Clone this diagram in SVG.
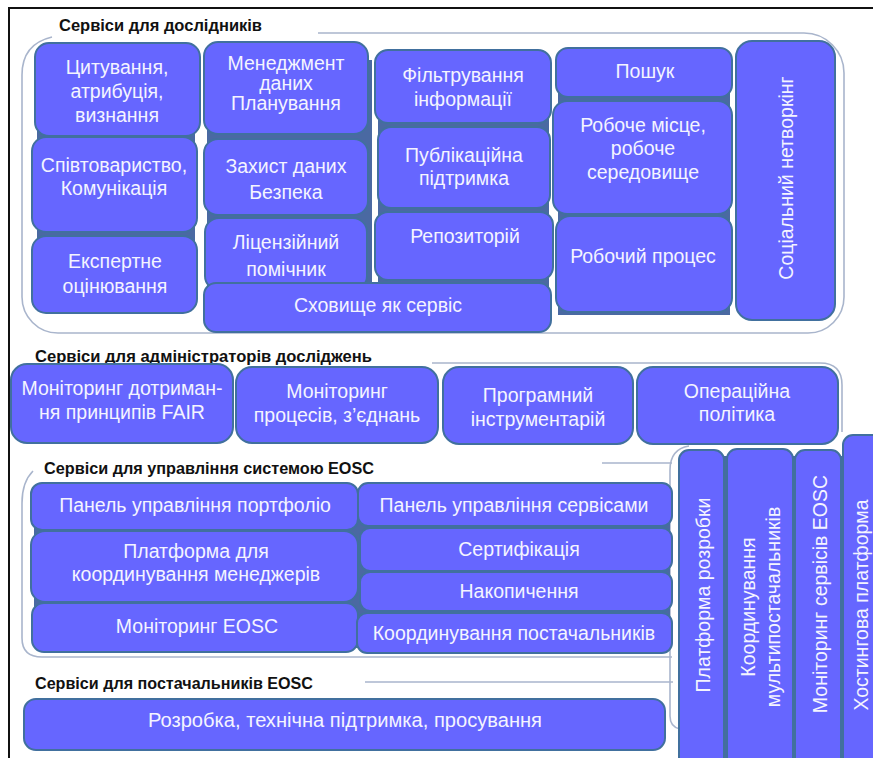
<svg xmlns="http://www.w3.org/2000/svg" width="873" height="758" viewBox="0 0 873 758">
<style>
.box{fill:#6666FF;stroke:#41709E;stroke-width:2}
.back{fill:#4A69A2}
.t{font-family:"Liberation Sans",Arial,sans-serif;font-size:19.5px;fill:#F4F4FF;text-anchor:middle}
.h{font-family:"Liberation Sans",Arial,sans-serif;font-size:16px;font-weight:bold;fill:#111}
.frame{fill:none;stroke:#A9B5CC;stroke-width:1.6}
</style>
<rect width="873" height="758" fill="#FFFFFF"/>
<path d="M9 758 V8 H873" fill="none" stroke="#111" stroke-width="2"/>

<g id="frames">
<path class="frame" d="M318 33 H804 A40 40 0 0 1 844 73 V297 A36 36 0 0 1 808 333 H58 A36 36 0 0 1 22 297 V75 Q22 44 52 37"/>
<path class="frame" d="M432 363 H820 Q842 363 842 385 V432"/>
<path class="frame" d="M602 463 H672"/>
<path class="frame" d="M33 471 Q22 482 22 503 V638 Q22 657 42 657 H672"/>
<path class="frame" d="M365 682 H673"/>
<path class="frame" d="M689 446 Q670 449 670 470 V716 Q670 727 680 729"/>
</g>

<g id="backs">
<rect class="back" x="37" y="60" width="158" height="240"/>
<rect class="back" x="207" y="60" width="165" height="236"/>
<rect class="back" x="378" y="62" width="171" height="228"/>
<rect class="back" x="558" y="60" width="172" height="255"/>
<rect class="back" x="34" y="492" width="636" height="156"/>
<rect class="back" x="682" y="456" width="191" height="302"/>
</g>

<g id="title-researchers"><text class="h" x="59" y="31" textLength="203" lengthAdjust="spacingAndGlyphs">Сервіси для дослідників</text></g>

<g id="n-citation"><rect class="box" x="35" y="43" width="165" height="93" rx="14"/>
<text class="t" x="117" y="74">Цитування,</text><text class="t" x="117" y="98">атрибуція,</text><text class="t" x="117" y="122">визнання</text></g>
<g id="n-community"><rect class="box" x="32" y="137" width="165" height="95" rx="14"/>
<text class="t" x="114" y="172">Співтовариство,</text><text class="t" x="114" y="195">Комунікація</text></g>
<g id="n-expert"><rect class="box" x="32" y="236" width="165" height="77" rx="14"/>
<text class="t" x="115" y="268">Експертне</text><text class="t" x="115" y="293">оцінювання</text></g>

<g id="n-dm"><rect class="box" x="204" y="42" width="164" height="92" rx="14"/>
<text class="t" x="286" y="70">Менеджмент</text><text class="t" x="286" y="90">даних</text><text class="t" x="286" y="110">Планування</text></g>
<g id="n-protect"><rect class="box" x="204" y="139" width="164" height="76" rx="14"/>
<text class="t" x="286" y="173">Захист даних</text><text class="t" x="286" y="199">Безпека</text></g>
<g id="n-license"><rect class="box" x="205" y="218" width="162" height="72" rx="14"/>
<text class="t" x="286" y="249">Ліцензійний</text><text class="t" x="286" y="276">помічник</text></g>

<g id="n-filter"><rect class="box" x="375" y="50" width="176" height="73" rx="13"/>
<text class="t" x="463" y="82">Фільтрування</text><text class="t" x="463" y="106">інформації</text></g>
<g id="n-publish"><rect class="box" x="378" y="127" width="172" height="81" rx="13"/>
<text class="t" x="464" y="162">Публікаційна</text><text class="t" x="464" y="185">підтримка</text></g>
<g id="n-repo"><rect class="box" x="375" y="212" width="178" height="68" rx="13"/>
<text class="t" x="465" y="243">Репозиторій</text></g>

<g id="n-storage"><rect class="box" x="204" y="283" width="347" height="49" rx="12"/>
<text class="t" x="378" y="312">Сховище як сервіс</text></g>

<g id="n-search"><rect class="box" x="556" y="48" width="176" height="49" rx="12"/>
<text class="t" x="645" y="78">Пошук</text></g>
<g id="n-workplace"><rect class="box" x="553" y="101" width="179" height="113" rx="14"/>
<text class="t" x="643" y="132">Робоче місце,</text><text class="t" x="643" y="155">робоче</text><text class="t" x="643" y="179">середовище</text></g>
<g id="n-workflow"><rect class="box" x="556" y="216" width="176" height="96" rx="14"/>
<text class="t" x="643" y="263">Робочий процес</text></g>

<g id="n-social"><rect class="box" x="736" y="41" width="99" height="279" rx="16"/>
<text class="t" transform="translate(793 178) rotate(-90)">Соціальний нетворкінг</text></g>

<g id="title-admins"><text class="h" x="35" y="362" textLength="337" lengthAdjust="spacingAndGlyphs">Сервіси для адміністраторів досліджень</text></g>

<g id="n-fair"><rect class="box" x="11" y="364" width="222" height="79" rx="16"/>
<text class="t" x="122" y="395">Моніторинг дотриман-</text><text class="t" x="122" y="419">ня принципів FAIR</text></g>
<g id="n-procmon"><rect class="box" x="236" y="367" width="202" height="76" rx="16"/>
<text class="t" x="337" y="398">Моніторинг</text><text class="t" x="337" y="422">процесів, з’єднань</text></g>
<g id="n-tools"><rect class="box" x="443" y="367" width="190" height="77" rx="16"/>
<text class="t" x="538" y="402">Програмний</text><text class="t" x="538" y="426">інструментарій</text></g>
<g id="n-policy"><rect class="box" x="637" y="367" width="201" height="77" rx="16"/>
<text class="t" x="737" y="398">Операційна</text><text class="t" x="737" y="421">політика</text></g>

<g id="title-eosc-mgmt"><text class="h" x="44" y="474" textLength="330" lengthAdjust="spacingAndGlyphs">Сервіси для управління системою EOSC</text></g>

<g id="n-portfolio"><rect class="box" x="31" y="483" width="327" height="47" rx="11"/>
<text class="t" x="195" y="512">Панель управління портфоліо</text></g>
<g id="n-managers"><rect class="box" x="31" y="531" width="327" height="71" rx="14"/>
<text class="t" x="196" y="558">Платформа для</text><text class="t" x="196" y="581">координування менеджерів</text></g>
<g id="n-eoscmon"><rect class="box" x="32" y="603" width="326" height="49" rx="12"/>
<text class="t" x="197" y="633">Моніторинг EOSC</text></g>
<g id="n-servpanel"><rect class="box" x="358" y="483" width="314" height="43" rx="10"/>
<text class="t" x="514" y="512">Панель управління сервісами</text></g>
<g id="n-cert"><rect class="box" x="360" y="528" width="312" height="43" rx="10"/>
<text class="t" x="519" y="556">Сертифікація</text></g>
<g id="n-accum"><rect class="box" x="360" y="572" width="312" height="39" rx="10"/>
<text class="t" x="519" y="598">Накопичення</text></g>
<g id="n-suppliers"><rect class="box" x="357" y="613" width="315" height="40" rx="10"/>
<text class="t" x="514" y="640">Координування постачальників</text></g>

<g id="title-providers"><text class="h" x="35" y="689" textLength="278" lengthAdjust="spacingAndGlyphs">Сервіси для постачальників EOSC</text></g>

<g id="n-dev"><rect class="box" x="24" y="699" width="641" height="51" rx="12"/>
<text class="t" x="345" y="727" textLength="394" lengthAdjust="spacingAndGlyphs">Розробка, технічна підтримка, просування</text></g>

<g id="n-devplatform"><rect class="box" x="679" y="450" width="45" height="330" rx="10"/>
<text class="t" transform="translate(710 595) rotate(-90)">Платформа розробки</text></g>
<g id="n-multisupp"><rect class="box" x="727" y="449" width="66" height="330" rx="10"/>
<text class="t" transform="translate(755 607) rotate(-90)">Координування</text>
<text class="t" transform="translate(780 607) rotate(-90)">мультипостачальників</text></g>
<g id="n-servmon"><rect class="box" x="795" y="450" width="46" height="330" rx="10"/>
<text class="t" transform="translate(827 594) rotate(-90)">Моніторинг сервісів EOSC</text></g>
<g id="n-hosting"><rect class="box" x="843" y="435" width="50" height="340" rx="10"/>
<text class="t" transform="translate(868 605) rotate(-90)">Хостингова платформа</text></g>
</svg>
